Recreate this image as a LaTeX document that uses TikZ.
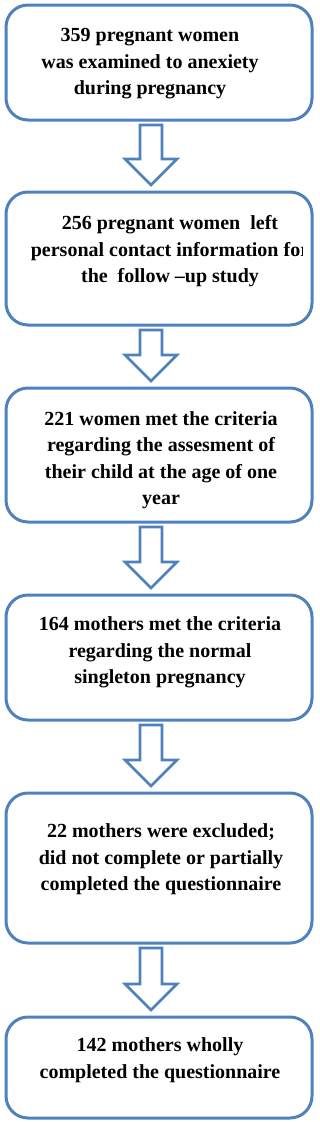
\documentclass[tikz,border=0pt]{standalone}
\usepackage{fontspec}
\setmainfont{Liberation Serif}
\usepackage{xcolor}
\usetikzlibrary{positioning, calc}
\definecolor{boxblue}{HTML}{4F81BD}
\tikzset{
  stepbox/.style={draw=boxblue, line width=3pt, rounded corners=22pt,
    minimum width=306pt, inner sep=0pt, outer sep=0pt},
  steptext/.style={align=center, inner sep=0pt,
    font=\fontsize{20}{26.5}\selectfont\bfseries},
  downarrow/.style={draw=boxblue, line width=2.6pt, fill=white, line join=miter},
}
\begin{document}
\begin{tikzpicture}[x=1pt, y=-1pt]

    \useasboundingbox (0,0) rectangle (319,1122);

    % Boxes of the flow, top to bottom
    \node[stepbox, minimum height=115pt] (b1) at (159,62.5) {};
    \node[stepbox, minimum height=133pt, below=72pt of b1] (b2) {};
    \node[stepbox, minimum height=134pt, below=63pt of b2] (b3) {};
    \node[stepbox, minimum height=125pt, below=73pt of b3] (b4) {};
    \node[stepbox, minimum height=150pt, below=73pt of b4] (b5) {};
    \node[stepbox, minimum height=101pt, below=74pt of b5] (b6) {};

    % Texts of the boxes
    \node[steptext] (t1) at ([xshift=-9pt, yshift=-1.5pt]b1.center)
        {359 pregnant women\\was examined to anexiety\\during pregnancy};
    \begin{scope}
        \clip (0,180) rectangle (302,330);
        \node[steptext] (t2) at ([xshift=11pt, yshift=7pt]b2.center)
            {256 pregnant women\ \ left\\personal contact information for\\the\ \ follow –up study};
    \end{scope}
    \node[steptext] (t3) at ([xshift=2pt, yshift=-5pt]b3.center)
        {221 women met the criteria\\regarding the assesment of\\their child at the age of one\\year};
    \node[steptext] (t4) at ([xshift=1pt, yshift=5pt]b4.center)
        {164 mothers met the criteria\\regarding the normal\\singleton pregnancy};
    \node[steptext] (t5) at ([xshift=2pt, yshift=8.5pt]b5.center)
        {22 mothers were excluded;\\did not complete or partially\\completed the questionnaire};
    \node[steptext] (t6) at ([xshift=1pt, yshift=7.5pt]b6.center)
        {142 mothers wholly\\completed the questionnaire};

    % Hollow arrows between the boxes
    \foreach \a/\b in {b1/b2, b2/b3, b3/b4, b4/b5, b5/b6}
        \draw[downarrow] let \p1=(\a.south), \p2=(\b.north) in
            (\x1-19pt,\y1-5pt) -- (\x1+3pt,\y1-5pt) -- (\x1+3pt,\y2+33pt)
            -- (\x1+18pt,\y2+33pt) -- (\x1-8pt,\y2+7pt) -- (\x1-34pt,\y2+33pt)
            -- (\x1-19pt,\y2+33pt) -- cycle;

\end{tikzpicture}
\end{document}
